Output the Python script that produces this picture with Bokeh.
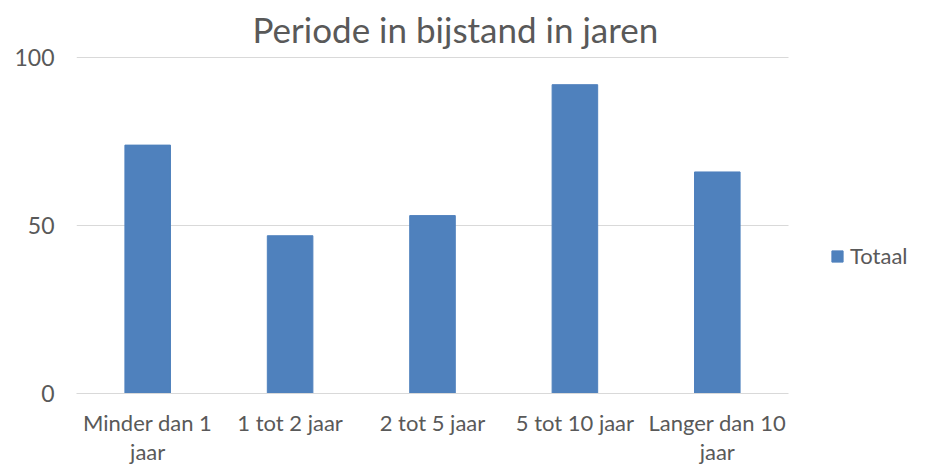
from bokeh.plotting import figure
from bokeh.models import Legend, LegendItem, FixedTicker, Range1d
from bokeh.embed import file_html
from bokeh.resources import INLINE

categories = ["Minder dan 1\njaar", "1 tot 2 jaar", "2 tot 5 jaar", "5 tot 10 jaar", "Langer dan 10\njaar"]
values = [74, 47, 53, 92, 66]
y_ticks = [0, 50, 100]
series_name = "Totaal"

FONT = "Lato"
TEXT_COLOR = "#595959"
BAR_COLOR = "#4F81BD"

W, H = 926, 468
LEFT, RIGHT_AXIS_END, TOP, BOTTOM = 76, 788, 56, 394
n = len(categories)
positions = [i + 1 for i in range(n)]
cat_px = (RIGHT_AXIS_END - LEFT) / n
x_end = 0.5 + (W - LEFT) / cat_px

p = figure(x_range=Range1d(0.5, x_end), y_range=Range1d(0, 100.4), width=W, height=H,
           output_backend="svg", toolbar_location=None,
           min_border_left=LEFT, min_border_right=0, min_border_top=TOP,
           min_border_bottom=H - BOTTOM)

r = p.vbar(x=positions, top=values, width=0.32, color=BAR_COLOR)

p.title.text = "Periode in bijstand in jaren"
p.title.text_font = FONT
p.title.text_font_size = "35px"
p.title.text_font_style = "normal"
p.title.text_color = TEXT_COLOR
p.title.align = "left"
p.title.offset = 176
p.title.vertical_align = "top"
p.title.standoff = 10

p.outline_line_color = None
p.xgrid.grid_line_color = None
p.ygrid.grid_line_color = "#D9D9D9"
p.ygrid.grid_line_width = 1
try:
    p.ygrid.cross_bounds = (0.5, n + 0.5)
except AttributeError:
    p.ygrid.grid_line_color = None
    p.segment(x0=[0.5] * len(y_ticks), x1=[n + 0.5] * len(y_ticks), y0=y_ticks, y1=y_ticks,
              line_color="#D9D9D9", line_width=1, level="underlay")

p.yaxis.ticker = FixedTicker(ticks=y_ticks)
p.yaxis.axis_line_color = None
p.yaxis.major_tick_line_color = None
p.yaxis.minor_tick_line_color = None
p.yaxis.major_tick_out = 0
p.yaxis.major_label_text_font = FONT
p.yaxis.major_label_text_font_size = "23px"
p.yaxis.major_label_text_color = TEXT_COLOR
p.yaxis.major_label_standoff = 22

p.xaxis.ticker = FixedTicker(ticks=positions)
p.xaxis.major_label_overrides = {pos: cat for pos, cat in zip(positions, categories)}
p.xaxis.bounds = (0.5, n + 0.5)
p.xaxis.axis_line_color = "#D9D9D9"
p.xaxis.axis_line_width = 1
p.xaxis.major_tick_line_color = None
p.xaxis.minor_tick_line_color = None
p.xaxis.major_tick_out = 0
p.xaxis.major_label_text_font = FONT
p.xaxis.major_label_text_font_size = "22px"
p.xaxis.major_label_text_color = TEXT_COLOR
p.xaxis.major_label_text_line_height = 1.1
p.xaxis.major_label_standoff = 15

legend = Legend(items=[LegendItem(label=series_name, renderers=[r])],
                location=(754, 124), border_line_color=None, background_fill_alpha=0,
                padding=0, margin=0, glyph_width=14, glyph_height=14, label_standoff=6,
                label_text_font=FONT, label_text_font_size="22px", label_text_color=TEXT_COLOR)
p.add_layout(legend)

open("out.html", "w").write(file_html(p, INLINE))
